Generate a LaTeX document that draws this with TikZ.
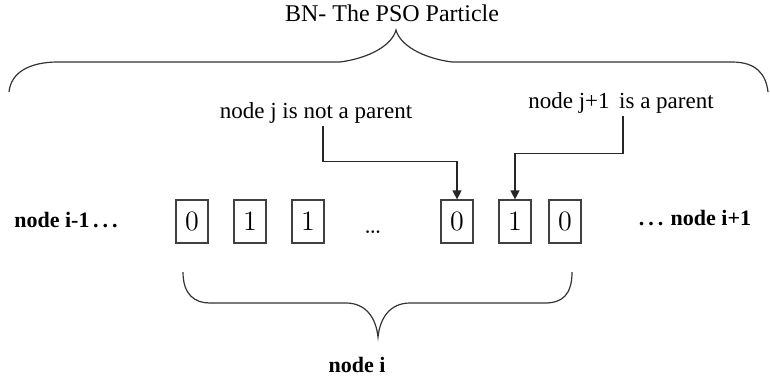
\documentclass[tikz,border=0pt]{standalone}
\usepackage{fontspec}
\newfontfamily\timesfont{Liberation Serif}
\usetikzlibrary{arrows.meta}

\tikzset{
	bit/.style={draw=black!75,line width=0.6pt,minimum width=16pt,minimum height=21.5pt,inner sep=0pt,font=\fontsize{14}{14}\selectfont},
	lbl/.style={inner sep=1pt,font=\timesfont\fontsize{11.5}{12}\selectfont},
	sidelbl/.style={inner sep=1pt,font=\timesfont\bfseries\fontsize{11}{12}\selectfont},
	brace/.style={draw=black!80,line width=0.6pt},
	arr/.style={draw=black!85,line width=0.6pt,-{Triangle[width=4.5pt,length=4.5pt]}}
}
\newcommand{\spdots}{\,.\kern2pt.\kern2pt.}

\begin{document}
\begin{tikzpicture}[x=0.5pt,y=-0.5pt]
	\useasboundingbox (0,0) rectangle (770,381);

	% the particle string
	\node[bit] (b1) at (192,221.5) {0};
	\node[bit] (b2) at (250,221.5) {1};
	\node[bit] (b3) at (308,221.5) {1};
	\node[anchor=base,inner sep=0pt,font=\fontsize{14}{14}\selectfont] (gap) at (373,233) {\ldots};
	\node[bit] (b4) at (457,221.5) {0};
	\node[bit] (b5) at (515,221.5) {1};
	\node[bit] (b6) at (565,221.5) {0};

	\node[sidelbl] (prev) at (66,220) {node i-1\spdots};
	\node[sidelbl] (next) at (695,218) {.\kern2pt.\kern2pt.\,\,node i+1};
	\node[sidelbl] (cur) at (357,365) {node i};

	% labels above
	\node[lbl,font=\timesfont\fontsize{12}{12}\selectfont] (title) at (392,13) {BN- The PSO Particle};
	\node[lbl] (notpar) at (316,113) {node j is not a parent};
	\node[lbl] (ispar) at (621,103) {node j+1\, is a parent};

	% arrows
	\draw[arr] ([xshift=3.5pt]notpar.south) -- ++(0,-18pt) -| (b4.north);
	\draw[arr] ([xshift=1pt]ispar.south) -- ++(0,-19pt) -| (b5.north);

	% braces
	\draw[brace] (9,92) .. controls (11,72) and (30,62) .. (58,62) -- (340,62)
		.. controls (370,58) and (392,45) .. (396,30)
		.. controls (400,45) and (422,58) .. (452,62) -- (732,62)
		.. controls (756,62) and (766,74) .. (768,92);
	\draw[brace] (183,272) .. controls (183,295) and (195,303) .. (210,303) -- (346,303)
		.. controls (366,303) and (376,318) .. (378,337)
		.. controls (380,318) and (390,303) .. (410,303) -- (545,303)
		.. controls (562,303) and (572,295) .. (572,272);
\end{tikzpicture}
\end{document}
